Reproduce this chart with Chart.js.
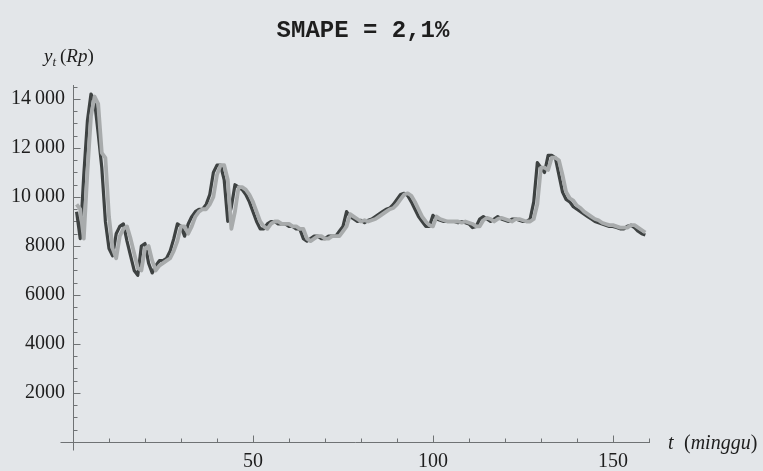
<!DOCTYPE html>
<html>
<head>
<meta charset="utf-8">
<script src="https://cdn.jsdelivr.net/npm/chart.js@4.4.1/dist/chart.umd.min.js"></script>
<style>
  html, body { margin: 0; padding: 0; background: #e3e6e9; }
  #wrap { width: 763px; height: 471px; }
</style>
</head>
<body>
<div id="wrap"><canvas id="myChart" width="763" height="471"></canvas></div>
<script>
// weeks 1..159
const weeks = Array.from({ length: 159 }, (v, i) => i + 1);

// actual price (dark line)
const actual = [
  9400, 8300, 10900, 13100, 14200, 13900, 12600, 11200, 9000, 7900,
  7600, 8500, 8800, 8900, 8200, 7600, 7000, 6800, 8000, 8100,
  7300, 6900, 7200, 7400, 7400, 7500, 7800, 8300, 8900, 8800,
  8400, 8900, 9200, 9400, 9500, 9500, 9700, 10100, 11000, 11300,
  11300, 10700, 9000, 9600, 10500, 10400, 10300, 10100, 9800, 9400,
  9000, 8700, 8700, 8900, 9000, 9000, 8900, 8900, 8900, 8800,
  8800, 8700, 8700, 8300, 8200, 8300, 8400, 8400, 8300, 8300,
  8400, 8400, 8400, 8600, 8800, 9400, 9200, 9100, 9000, 9050,
  8950, 9050, 9100, 9200, 9300, 9400, 9500, 9550, 9700, 9900,
  10100, 10150, 10050, 9800, 9500, 9200, 9000, 8800, 8800, 9250,
  9100, 9050, 9000, 9000, 9000, 9000, 8950, 9000, 8950, 8900,
  8750, 8800, 9100, 9200, 9100, 9000, 9100, 9200, 9100, 9050,
  9000, 9100, 9100, 9050, 9000, 9000, 9100, 9800, 11400, 11200,
  11000, 11700, 11700, 11600, 10900, 10200, 9900, 9800, 9600, 9500,
  9400, 9300, 9200, 9100, 9000, 8950, 8900, 8850, 8800, 8800,
  8750, 8700, 8700, 8800, 8850, 8750, 8600, 8500, 8450
];

// forecast (light line)
const forecast = [
  9700, 9500, 8300, 11000, 13300, 14100, 13800, 11800, 11600, 9200,
  7900, 7500, 8400, 8700, 8800, 8300, 7700, 7100, 7000, 7900,
  8000, 7400, 7000, 7200, 7300, 7400, 7500, 7800, 8200, 8800,
  8800, 8500, 8800, 9200, 9400, 9500, 9500, 9700, 10000, 10900,
  11300, 11300, 10700, 8700, 9400, 10400, 10400, 10300, 10100, 9800,
  9400, 9000, 8800, 8700, 8900, 9000, 9000, 8900, 8900, 8900,
  8800, 8800, 8700, 8700, 8300, 8200, 8300, 8400, 8400, 8300,
  8300, 8400, 8400, 8400, 8600, 8800, 9300, 9200, 9100, 9000,
  9050, 9000, 9050, 9100, 9200, 9300, 9400, 9500, 9550, 9700,
  9900, 10100, 10150, 10050, 9800, 9500, 9200, 9000, 8850, 8800,
  9200, 9100, 9050, 9000, 9000, 9000, 9000, 8950, 9000, 8950,
  8900, 8800, 8800, 9050, 9150, 9100, 9000, 9100, 9150, 9100,
  9050, 9000, 9100, 9100, 9050, 9000, 9000, 9100, 9700, 11200,
  11200, 11100, 11600, 11600, 11500, 10900, 10200, 9950, 9850, 9650,
  9550, 9400, 9300, 9200, 9100, 9050, 8950, 8900, 8850, 8850,
  8800, 8750, 8750, 8750, 8850, 8850, 8750, 8650, 8550
];

const yTicks = [2000, 4000, 6000, 8000, 10000, 12000, 14000];
const xTicks = [50, 100, 150];

const serif = '"Liberation Serif", "DejaVu Serif", serif';
const axisColor = '#6f7274';

function fmt(v) {
  if (v >= 10000) {
    const s = String(v);
    return s.slice(0, s.length - 3) + '\u2009' + s.slice(-3);
  }
  return String(v);
}

// background, Mathematica style axes with inward ticks, and the labels
const mmaAxes = {
  id: 'mmaAxes',
  beforeDraw(chart) {
    const ctx = chart.ctx;
    ctx.save();
    ctx.fillStyle = '#e3e6e9';
    ctx.fillRect(0, 0, chart.width, chart.height);
    ctx.restore();
  },
  beforeDatasetsDraw(chart) {
    const { ctx, scales: { x, y } } = chart;
    const x0 = Math.round(x.getPixelForValue(0)) + 0.5;
    const y0 = Math.round(y.getPixelForValue(0)) + 0.5;
    ctx.save();
    ctx.strokeStyle = axisColor;
    ctx.lineWidth = 1;
    ctx.beginPath();
    ctx.moveTo(x0 - 13, y0);
    ctx.lineTo(x.right, y0);
    ctx.moveTo(x0, y.top);
    ctx.lineTo(x0, y0 + 8);
    for (let t = 10; t <= 160; t += 10) {
      const px = Math.round(x.getPixelForValue(t)) + 0.5;
      const len = t % 50 === 0 ? 7 : 4;
      ctx.moveTo(px, y0);
      ctx.lineTo(px, y0 - len);
    }
    for (let v = 500; v <= 14500; v += 500) {
      const py = Math.round(y.getPixelForValue(v)) + 0.5;
      const len = v % 2000 === 0 ? 7 : 4;
      ctx.moveTo(x0, py);
      ctx.lineTo(x0 + len, py);
    }
    ctx.stroke();
    ctx.restore();
  },
  afterDraw(chart) {
    const ctx = chart.ctx;
    ctx.save();
    ctx.fillStyle = '#1e1e1e';
    ctx.textBaseline = 'alphabetic';

    // title
    ctx.font = 'bold 24px "Liberation Mono", "DejaVu Sans Mono", monospace';
    ctx.textAlign = 'center';
    ctx.fillText('SMAPE = 2,1%', 363, 37);

    // y label: y_t (Rp)
    ctx.textAlign = 'left';
    let cx = 44;
    ctx.font = 'italic 19px ' + serif;
    ctx.fillText('y', cx, 62);
    cx += ctx.measureText('y').width;
    ctx.font = 'italic 13px ' + serif;
    ctx.fillText('t', cx, 66);
    cx += ctx.measureText('t').width + 4;
    ctx.font = '19px ' + serif;
    ctx.fillText('(', cx, 62);
    cx += ctx.measureText('(').width;
    ctx.font = 'italic 19px ' + serif;
    ctx.fillText('Rp', cx, 62);
    cx += ctx.measureText('Rp').width;
    ctx.font = '19px ' + serif;
    ctx.fillText(')', cx, 62);

    // x label: t (minggu)
    cx = 668;
    ctx.font = 'italic 20px ' + serif;
    ctx.fillText('t', cx, 449);
    cx = 684;
    ctx.font = '20px ' + serif;
    ctx.fillText('(', cx, 449);
    cx += ctx.measureText('(').width;
    ctx.font = 'italic 20px ' + serif;
    ctx.fillText('minggu', cx, 449);
    cx += ctx.measureText('minggu').width;
    ctx.font = '20px ' + serif;
    ctx.fillText(')', cx, 449);
    ctx.restore();
  }
};

const data = {
  datasets: [
    {
      label: 'Peramalan',
      data: weeks.map((w, i) => ({ x: w, y: forecast[i] })),
      borderColor: 'rgb(168, 171, 172)',
      borderWidth: 3.8,
      pointRadius: 0,
      tension: 0,
      borderJoinStyle: 'round'
    },
    {
      label: 'Aktual',
      data: weeks.map((w, i) => ({ x: w, y: actual[i] })),
      borderColor: 'rgb(62, 66, 66)',
      borderWidth: 3.2,
      pointRadius: 0,
      tension: 0,
      borderJoinStyle: 'round'
    }
  ]
};

const config = {
  type: 'line',
  data: data,
  options: {
    responsive: false,
    animation: false,
    layout: { padding: { top: 85, right: 113, left: 0, bottom: 0 } },
    plugins: {
      legend: { display: false },
      title: { display: false },
      tooltip: { enabled: false }
    },
    scales: {
      x: {
        type: 'linear',
        min: 0,
        max: 160.3,
        grid: { display: false, drawTicks: false },
        border: { display: false },
        afterBuildTicks: (scale) => { scale.ticks = xTicks.map(value => ({ value })); },
        afterFit: (scale) => { scale.height = 29; },
        ticks: {
          padding: 8,
          maxRotation: 0,
          color: '#1e1e1e',
          font: { family: serif, size: 20 },
          callback: (v) => String(v)
        }
      },
      y: {
        min: 0,
        max: 14570,
        grid: { display: false, drawTicks: false },
        border: { display: false },
        afterBuildTicks: (scale) => { scale.ticks = yTicks.map(value => ({ value })); },
        afterFit: (scale) => { scale.width = 73; },
        ticks: {
          padding: 8,
          color: '#1e1e1e',
          font: { family: serif, size: 20 },
          callback: (v) => fmt(v)
        }
      }
    }
  },
  plugins: [mmaAxes]
};

const myChart = new Chart(
  document.getElementById('myChart'),
  config
);
</script>
</body>
</html>
